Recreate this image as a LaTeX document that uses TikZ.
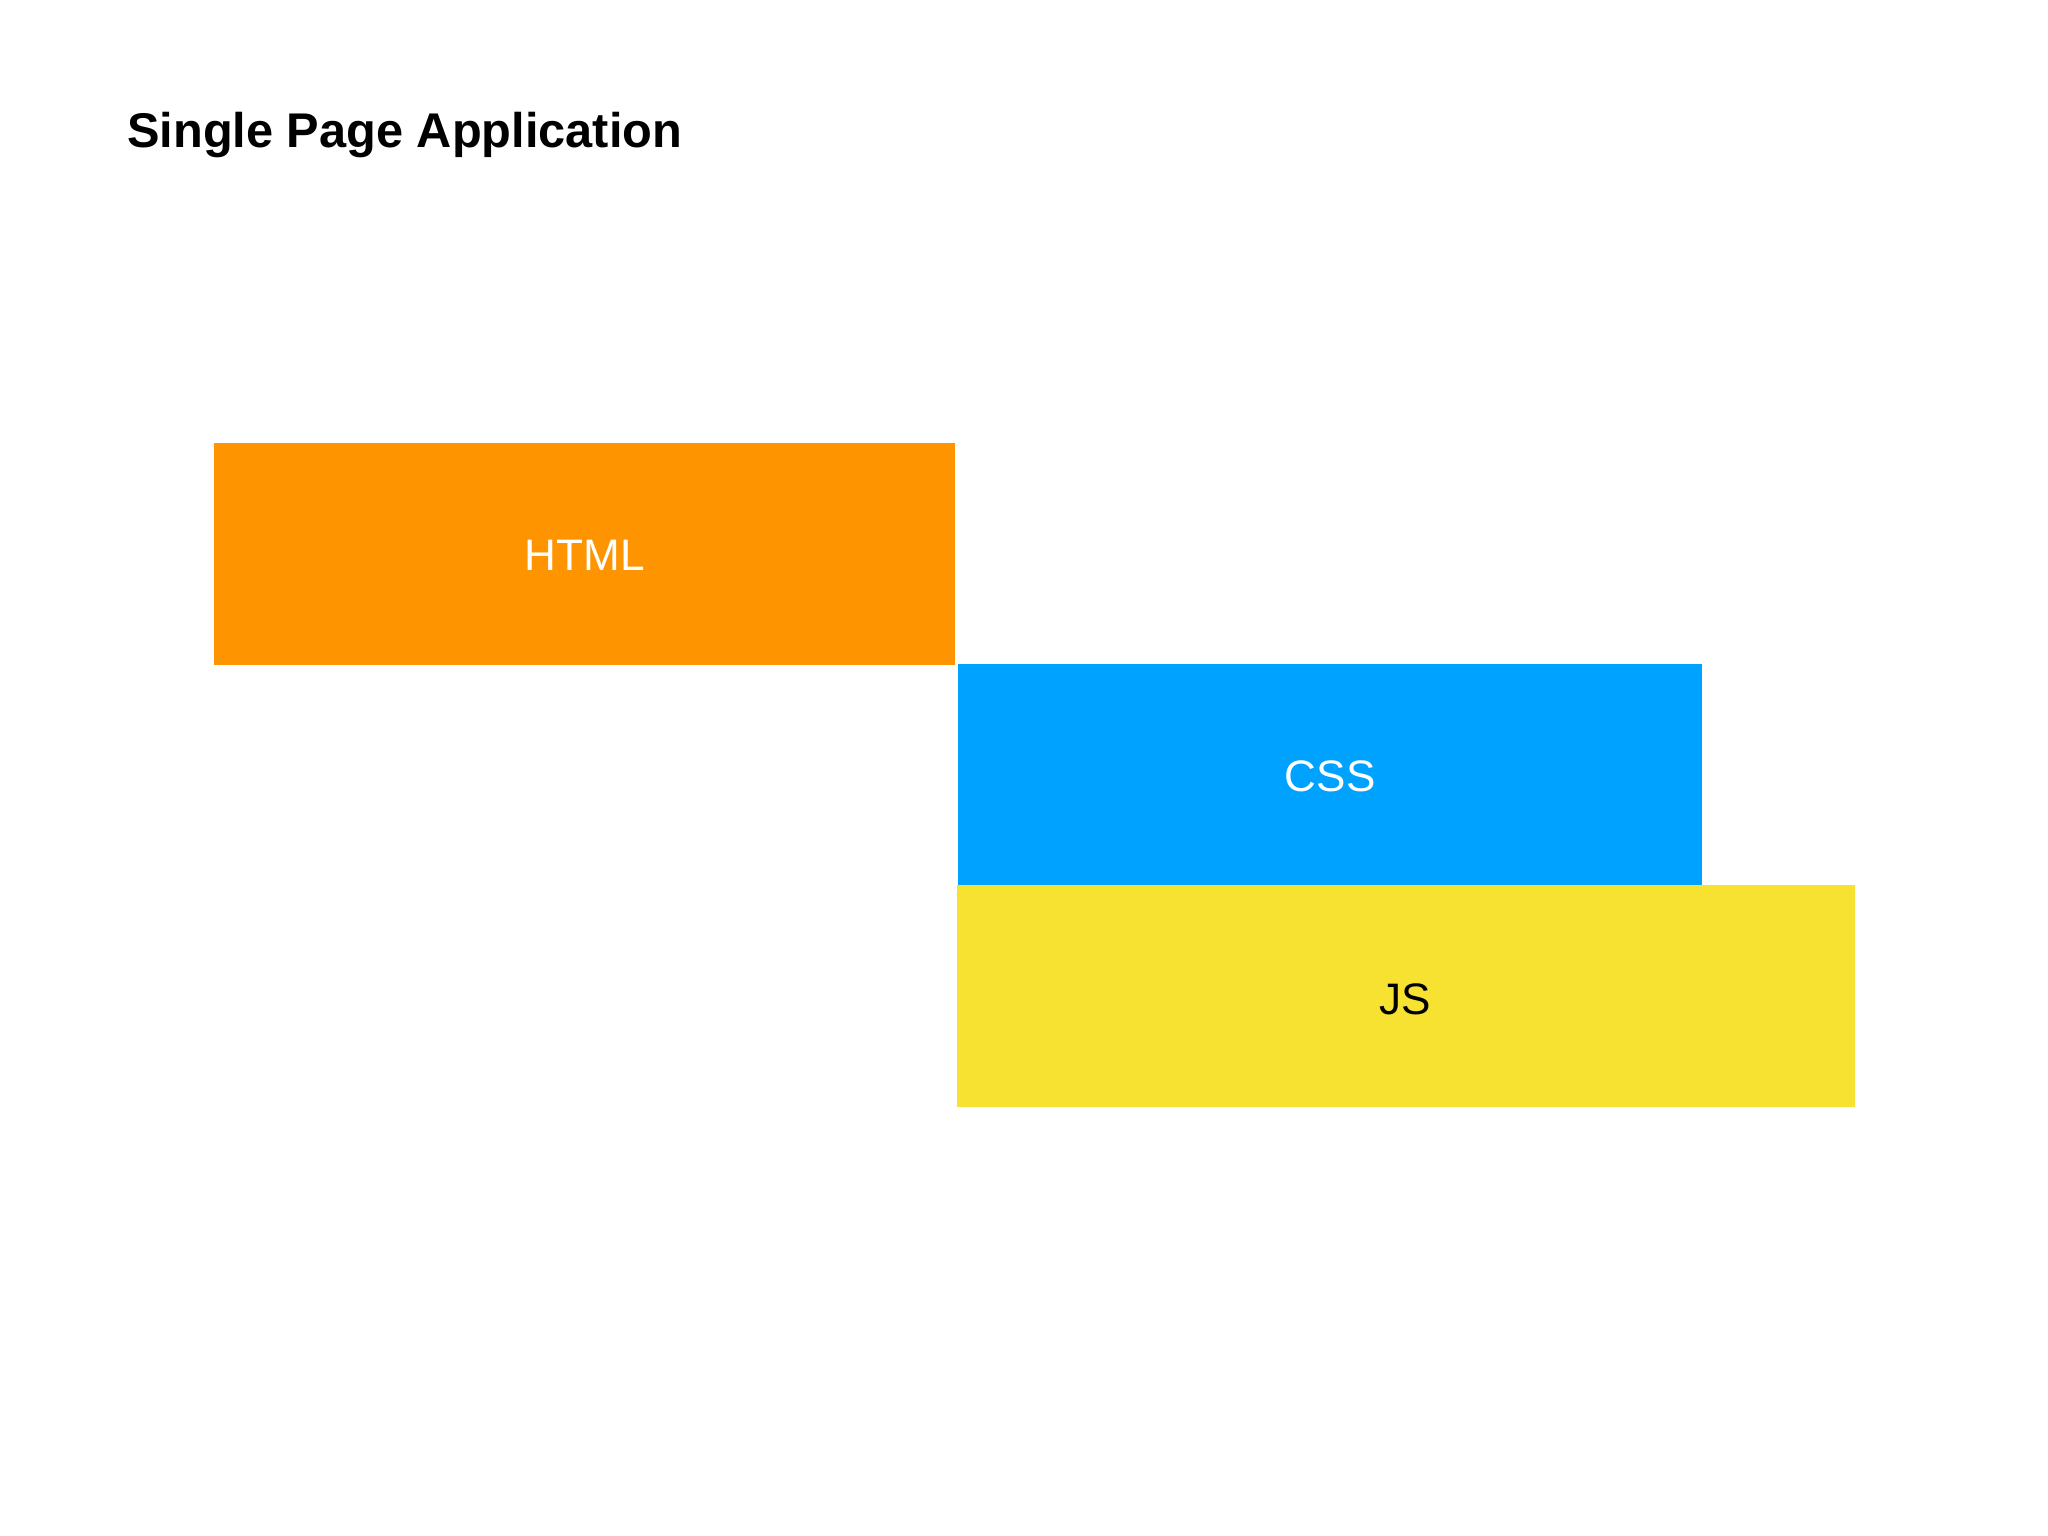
\documentclass[tikz,border=0pt]{standalone}
\usepackage{fontspec}
\setmainfont{Liberation Sans}
\definecolor{orangeb}{HTML}{FD9400}
\definecolor{blueb}{HTML}{00A2FF}
\definecolor{yellowb}{HTML}{F8E231}
\begin{document}
\begin{tikzpicture}[x=0.01cm,y=-0.01cm]
\tikzset{blk/.style={font=\fontsize{9.5pt}{11pt}\selectfont}}
\useasboundingbox[fill=white] (0,0) rectangle (1552,1164);
\fill[orangeb] (162,336) rectangle (724,504);
\fill[blueb] (726,503) rectangle (1290,671);
\fill[yellowb] (725,671) rectangle (1406,839);
\node[blk,text=white] (html) at (443,421) {HTML};
\node[blk,text=white] (css) at (1008,588) {CSS};
\node[blk,text=black] (js) at (1065,757) {JS};
\node[anchor=base west,font=\bfseries\fontsize{10.5pt}{12pt}\selectfont] (title) at (84,112) {Single Page Application};
\end{tikzpicture}
\end{document}
